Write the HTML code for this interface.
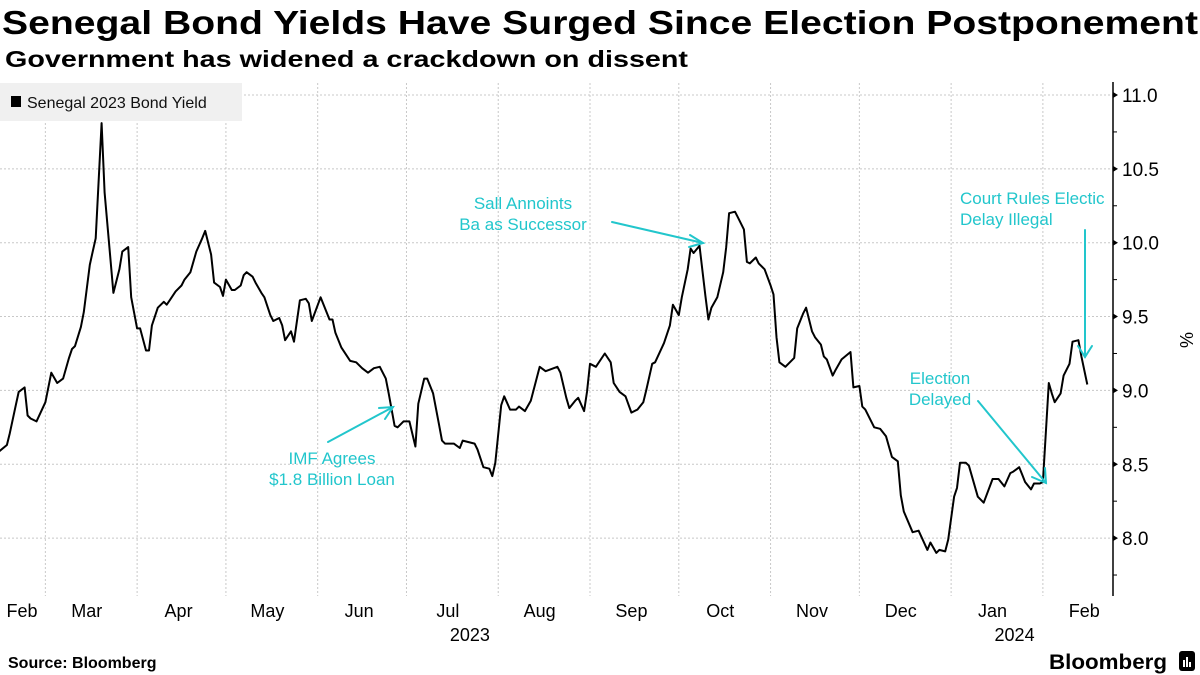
<!DOCTYPE html>
<html><head><meta charset="utf-8"><style>
html,body{margin:0;padding:0;background:#fff;}
svg{display:block;font-family:"Liberation Sans","DejaVu Sans",sans-serif;}
</style></head><body>
<svg id="chart" width="1200" height="675" viewBox="0 0 1200 675" xmlns="http://www.w3.org/2000/svg">
<text x="2" y="34" font-size="33" font-weight="bold" textLength="1196" lengthAdjust="spacingAndGlyphs" fill="#000">Senegal Bond Yields Have Surged Since Election Postponement</text>
<text x="5" y="67" font-size="23" font-weight="bold" textLength="683" lengthAdjust="spacingAndGlyphs" fill="#000">Government has widened a crackdown on dissent</text>
<g id="grid"></g>
<g id="series"></g>
<g id="axis"></g>
<g id="xaxis"></g>
<g>
<rect x="0" y="83" width="242" height="38" fill="#f0f0f0"/>
<rect x="11" y="96" width="10" height="11" fill="#000"/>
<text x="27" y="108" font-size="16" fill="#111">Senegal 2023 Bond Yield</text>
</g>
<g fill="#22c6cc" font-size="17" stroke-linecap="round">
<text text-anchor="middle" x="523" y="209">Sall Annoints</text>
<text text-anchor="middle" x="523" y="230">Ba as Successor</text>
<line x1="612" y1="222" x2="703" y2="243" stroke="#22c6cc" stroke-width="2"/>
<polyline points="690,235 703,243 689,247" fill="none" stroke="#22c6cc" stroke-width="2"/>
<text text-anchor="middle" x="332" y="464">IMF Agrees</text>
<text text-anchor="middle" x="332" y="485">$1.8 Billion Loan</text>
<line x1="328" y1="442" x2="393" y2="407" stroke="#22c6cc" stroke-width="2"/>
<polyline points="379,408 393,407 385,419" fill="none" stroke="#22c6cc" stroke-width="2"/>
<text text-anchor="middle" x="940" y="384">Election</text>
<text text-anchor="middle" x="940" y="405">Delayed</text>
<line x1="978" y1="401" x2="1046" y2="483" stroke="#22c6cc" stroke-width="2"/>
<polyline points="1032,477 1046,483 1045,468" fill="none" stroke="#22c6cc" stroke-width="2"/>
<text x="960" y="204">Court Rules Electic</text>
<text x="960" y="225">Delay Illegal</text>
<line x1="1085" y1="230" x2="1085" y2="357" stroke="#22c6cc" stroke-width="2"/>
<polyline points="1078,346 1085,357 1092,346" fill="none" stroke="#22c6cc" stroke-width="2"/>
</g>
<text x="8" y="668" font-size="16" font-weight="bold" fill="#000">Source: Bloomberg</text>
<text x="1167" y="669" font-size="21" font-weight="bold" text-anchor="end" textLength="118" lengthAdjust="spacingAndGlyphs" fill="#000">Bloomberg</text>
<g>
<rect x="1179" y="651" width="16" height="20" rx="3" fill="#000"/>
<rect x="1183" y="660" width="2" height="7" fill="#fff"/><rect x="1186" y="657" width="2" height="10" fill="#fff"/><rect x="1189" y="662" width="2" height="5" fill="#fff"/>
</g>
</svg>
<script>
// Day offsets since 2023-02-13 and yield (%)
const days = [0,3,4,6,7,9,10,11,13,16,18,20,22,24,25,26,28,29,31,32,33,35,36,39,41,42,44,45,47,48,50,51,52,54,56,57,58,60,62,63,65,67,69,70,72,73,75,76,77,79,80,82,83,84,86,87,89,90,92,93,95,96,97,99,100,102,104,105,106,109,112,113,114,116,119,121,123,125,127,129,131,132,134,135,137,139,141,142,144,145,147,149,150,151,154,156,157,161,162,164,166,167,168,170,171,173,175,176,178,180,183,185,189,190,192,193,195,196,198,199,200,202,205,207,208,210,212,214,216,218,219,221,222,225,227,228,230,231,233,234,235,237,239,240,241,243,245,246,247,249,250,252,253,254,256,257,259,261,262,263,264,266,269,270,272,273,275,276,278,279,280,282,283,285,288,289,291,292,293,296,298,300,302,304,305,306,309,311,314,315,317,318,320,321,323,324,325,327,328,331,333,336,338,340,342,343,345,346,347,349,350,352,353,355,356,357,359,360,362,363,365,366,368];
const yields = [8.58,8.63,8.71,8.90,8.99,9.02,8.83,8.81,8.79,8.92,9.12,9.05,9.08,9.22,9.28,9.30,9.43,9.53,9.85,9.94,10.03,10.81,10.34,9.66,9.82,9.94,9.97,9.63,9.42,9.42,9.27,9.27,9.44,9.56,9.60,9.58,9.61,9.67,9.71,9.75,9.80,9.94,10.03,10.08,9.92,9.73,9.70,9.64,9.75,9.68,9.68,9.71,9.78,9.80,9.77,9.73,9.66,9.63,9.51,9.47,9.49,9.44,9.34,9.40,9.33,9.61,9.62,9.59,9.47,9.63,9.48,9.48,9.39,9.29,9.20,9.19,9.15,9.12,9.15,9.16,9.08,8.98,8.76,8.75,8.79,8.79,8.62,8.91,9.08,9.08,8.98,8.77,8.66,8.64,8.64,8.61,8.66,8.64,8.60,8.48,8.47,8.42,8.51,8.90,8.96,8.87,8.87,8.89,8.86,8.93,9.16,9.13,9.16,9.12,8.95,8.88,8.93,8.95,8.86,8.99,9.18,9.16,9.25,9.19,9.05,8.99,8.96,8.85,8.87,8.92,9.00,9.18,9.19,9.32,9.44,9.58,9.51,9.63,9.82,9.96,9.93,9.98,9.64,9.48,9.56,9.63,9.80,9.97,10.20,10.21,10.17,10.09,9.87,9.86,9.90,9.86,9.82,9.71,9.65,9.36,9.19,9.16,9.22,9.42,9.52,9.56,9.40,9.36,9.31,9.23,9.21,9.10,9.14,9.21,9.26,9.02,9.03,8.89,8.87,8.75,8.74,8.69,8.55,8.52,8.29,8.18,8.04,8.05,7.92,7.97,7.90,7.92,7.91,7.99,8.28,8.34,8.51,8.51,8.49,8.28,8.24,8.40,8.40,8.35,8.44,8.45,8.48,8.43,8.38,8.33,8.37,8.37,8.38,9.05,8.98,8.92,8.98,9.10,9.18,9.33,9.34,9.23,9.04];
const yTicks = [8.0,8.5,9.0,9.5,10.0,10.5,11.0];
const yTickLabels = ["8.0","8.5","9.0","9.5","10.0","10.5","11.0"];
const minorTicks = [7.75,8.25,8.75,9.25,9.75,10.25,10.75];
const monthLabels = ["Feb","Mar","Apr","May","Jun","Jul","Aug","Sep","Oct","Nov","Dec","Jan","Feb"];
const monthMidDays = [2,30,61,91,122,152,183,214,244,275,305,336,367];
const monthStartDays = [16,47,77,108,138,169,200,230,261,291,322,353];
const yearLabels = ["2023","2024"];
const yearDays = [152,336];

const NS="http://www.w3.org/2000/svg";
const X0=1113;
function xScale(d){return -2 + d*2.96;}
function yScale(v){return 95 + (11.0 - v)*147.7;}
function mk(tag,attrs,parent){const e=document.createElementNS(NS,tag);for(const k in attrs)e.setAttribute(k,attrs[k]);parent.appendChild(e);return e;}

const grid=document.getElementById('grid');
yTicks.forEach(function(v){
  const l=mk('line',{x1:0,x2:X0,y1:yScale(v),y2:yScale(v),stroke:'#c8c8c8','stroke-width':1,'stroke-dasharray':'2,2'},grid);
  
  
});
monthStartDays.forEach(function(d){
  const l=mk('line',{x1:xScale(d),x2:xScale(d),y1:83,y2:596,stroke:'#c8c8c8','stroke-width':1,'stroke-dasharray':'2,2'},grid);
  
  
});

const series=document.getElementById('series');
let dstr='';
days.forEach(function(d,i){dstr+=(i?'L':'M')+xScale(d).toFixed(1)+','+yScale(yields[i]).toFixed(1);});
const path=mk('path',{d:dstr,fill:'none',stroke:'#000','stroke-width':2,'stroke-linejoin':'round'},series);



const axis=document.getElementById('axis');
const al=mk('line',{x1:X0,x2:X0,y1:82,y2:596,stroke:'#000','stroke-width':1.5},axis);


yTicks.forEach(function(v,i){
  const t=mk('path',{d:'M'+X0+','+(yScale(v)-3)+'L'+(X0+5)+','+yScale(v)+'L'+X0+','+(yScale(v)+3)+'Z',fill:'#000'},axis);
  
  
  const tx=mk('text',{x:X0+9,y:yScale(v)+7,'font-size':19,fill:'#000'},axis);
  tx.textContent=yTickLabels[i];
  
  
});
minorTicks.forEach(function(v){
  const t=mk('line',{x1:X0,x2:X0+4,y1:yScale(v),y2:yScale(v),stroke:'#000','stroke-width':1},axis);
  
  
});
const pct=mk('text',{x:0,y:0,'font-size':18,fill:'#000','text-anchor':'middle',transform:'translate(1180,340) rotate(90)'},axis);
pct.textContent='%';



const xaxis=document.getElementById('xaxis');
monthLabels.forEach(function(m,i){
  let x=xScale(monthMidDays[i]); if(i===0) x=22;
  const t=mk('text',{x:x,y:617,'font-size':18,fill:'#000','text-anchor':'middle'},xaxis);
  t.textContent=m;
  
  
});
yearLabels.forEach(function(y,i){
  const t=mk('text',{x:xScale(yearDays[i])+22,y:641,'font-size':18,fill:'#000','text-anchor':'middle'},xaxis);
  t.textContent=y;
  
  
});
</script>
</body></html>
